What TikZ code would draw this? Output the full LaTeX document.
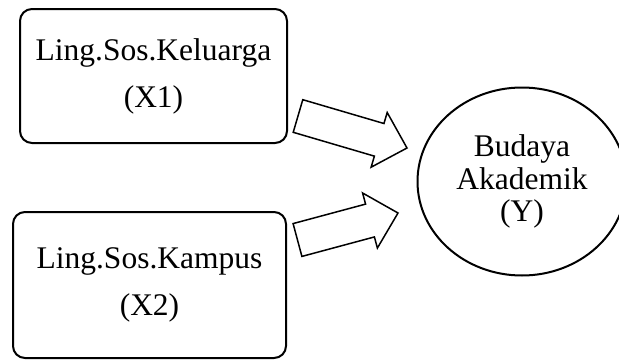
\documentclass[tikz,border=0pt]{standalone}
\usepackage{fontspec}
\setmainfont{Liberation Serif}
\usepackage{tikz}
\usetikzlibrary{shapes.geometric,calc}

% block arrow from tail to tip (shaft half width, head half width, head length)
\newcommand{\blockarrow}[2]{%
  \draw[blockarr]
    ($(#1)!17pt!90:(#2)$)
    -- ($($(#2)!29pt!(#1)$)!17pt!90:(#2)$)
    -- ($($(#2)!29pt!(#1)$)!28.5pt!90:(#2)$)
    -- (#2)
    -- ($($(#2)!29pt!(#1)$)!28.5pt!-90:(#2)$)
    -- ($($(#2)!29pt!(#1)$)!17pt!-90:(#2)$)
    -- ($(#1)!17pt!-90:(#2)$)
    -- cycle;}

\begin{document}
\begin{tikzpicture}[
    x=1pt, y=1pt,
    varbox/.style={rectangle, draw=black, line width=2pt, rounded corners=12pt,
                   align=center, inner sep=0pt,
                   font=\fontsize{31.5}{47}\selectfont},
    outcome/.style={ellipse, draw=black, line width=2pt, align=center, inner sep=0pt,
                   minimum width=209pt, minimum height=188pt,
                   font=\fontsize{31.5}{32.5}\selectfont},
    blockarr/.style={draw=black, line width=1.5pt, line join=miter, fill=white}
]
    \useasboundingbox (0,0) rectangle (619,360);

    \node[varbox, minimum width=267pt, minimum height=134pt] (keluarga) at (153.5,284)
        {Ling.Sos.Keluarga\\(X1)};
    \node[varbox, minimum width=273pt, minimum height=146pt] (kampus) at (149.5,75)
        {Ling.Sos.Kampus\\(X2)};
    \node[outcome] (budaya) at (522,178.5) {Budaya\\Akademik\\(Y)};

    \coordinate (kelTail) at (298,244);
    \coordinate (kelTip)  at (407,212);
    \coordinate (kamTail) at (297.5,120);
    \coordinate (kamTip)  at (398,147);

    \blockarrow{kelTail}{kelTip}
    \blockarrow{kamTail}{kamTip}
\end{tikzpicture}
\end{document}
